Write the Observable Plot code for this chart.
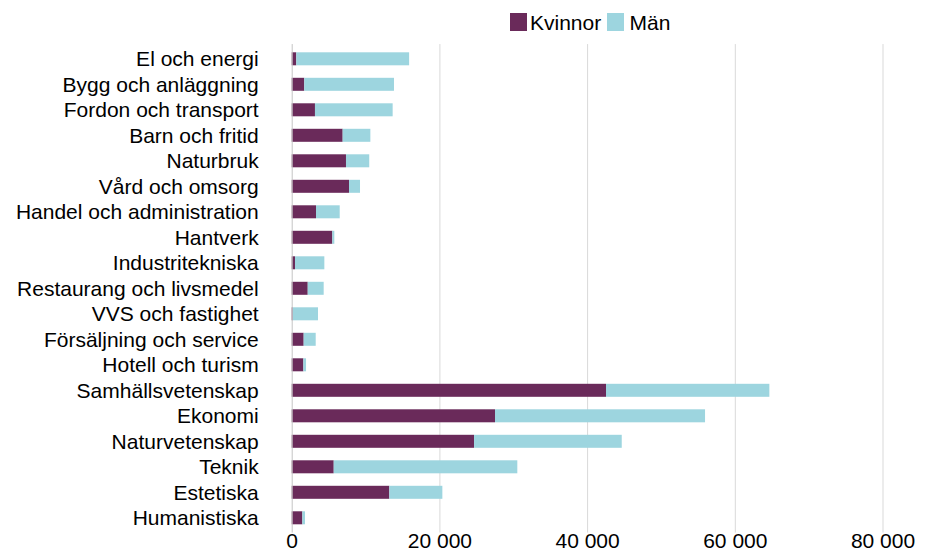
<!DOCTYPE html>
<html>
<head>
<meta charset="utf-8">
<script src="https://cdn.jsdelivr.net/npm/d3@7"></script>
<script src="https://cdn.jsdelivr.net/npm/@observablehq/plot@0.6"></script>
<style>
  html, body { margin: 0; padding: 0; background: #fff; }
  body { width: 930px; height: 553px; overflow: hidden; font-family: "Liberation Sans", Arial, sans-serif; }
  #legend { position: relative; height: 42px; font-size: 21px; color: #000; }
  #legend .sw { position: absolute; top: 13.3px; width: 17px; height: 18px; }
  #legend .lb { position: absolute; top: 12.2px; line-height: 21px; white-space: nowrap; }
  #chart svg { display: block; }
  svg text { fill: #000; }
</style>
</head>
<body>
<div id="legend"></div>
<div id="chart"></div>
<script>
const categories = [
  "El och energi", "Bygg och anläggning", "Fordon och transport", "Barn och fritid",
  "Naturbruk", "Vård och omsorg", "Handel och administration", "Hantverk",
  "Industritekniska", "Restaurang och livsmedel", "VVS och fastighet",
  "Försäljning och service", "Hotell och turism", "Samhällsvetenskap", "Ekonomi",
  "Naturvetenskap", "Teknik", "Estetiska", "Humanistiska"
];
const kvinnor = [620, 1700, 3150, 6900, 7350, 7760, 3290, 5500, 450, 2170, 140, 1620, 1580, 42560, 27530, 24690, 5690, 13220, 1440];
const man = [15280, 12150, 10520, 3750, 3150, 1490, 3210, 270, 3970, 2160, 3420, 1630, 360, 22120, 28440, 20000, 24860, 7180, 360];
const series = ["Kvinnor", "Män"];
const colors = ["#6a2a5a", "#9dd5df"];
const xTicks = [0, 20000, 40000, 60000, 80000];
const gridTicks = [20000, 40000, 60000, 80000];

const rows = [];
categories.forEach((c, i) => {
  rows.push({cat: c, sex: series[0], value: kvinnor[i]});
  rows.push({cat: c, sex: series[1], value: man[i]});
});

const fmt = d => d3.format(",")(d).replace(/,/g, "\u00a0");

const chart = Plot.plot({
  width: 930,
  height: 511,
  marginLeft: 291.7,
  marginRight: 47.5,
  marginTop: 4.05,
  marginBottom: 22.45,
  style: {fontFamily: "'Liberation Sans', Arial, sans-serif", fontSize: "21px", color: "#000", background: "#fff", overflow: "visible"},
  x: {domain: [0, 80000], ticks: xTicks},
  y: {domain: categories, paddingInner: 0.49, paddingOuter: 0.245, round: false},
  color: {domain: series, range: colors},
  marks: [
    Plot.ruleX(gridTicks, {stroke: "#d9d9d9", strokeWidth: 1, strokeOpacity: 1, insetTop: -2, insetBottom: -2}),
    Plot.barX(rows, Plot.stackX({x: "value", y: "cat", fill: "sex", order: null})),
    Plot.ruleX([0], {stroke: "#c4c4c4", strokeWidth: 1, strokeOpacity: 1, insetTop: -2, insetBottom: -2}),
    Plot.axisX({ticks: xTicks, tickSize: 0, tickPadding: 2.5, tickFormat: fmt, fontSize: 21, label: null}),
    Plot.axisY({tickSize: 0, tickPadding: 33.5, fontSize: 21, label: null})
  ]
});
document.getElementById("chart").appendChild(chart);

const legend = document.getElementById("legend");
const legendPos = [{sw: 509.5, lb: 530}, {sw: 607, lb: 629.5}];
series.forEach((s, i) => {
  const sw = document.createElement("div");
  sw.className = "sw";
  sw.style.left = legendPos[i].sw + "px";
  sw.style.background = colors[i];
  legend.appendChild(sw);
  const lb = document.createElement("div");
  lb.className = "lb";
  lb.style.left = legendPos[i].lb + "px";
  lb.textContent = s;
  legend.appendChild(lb);
});
</script>
</body>
</html>
